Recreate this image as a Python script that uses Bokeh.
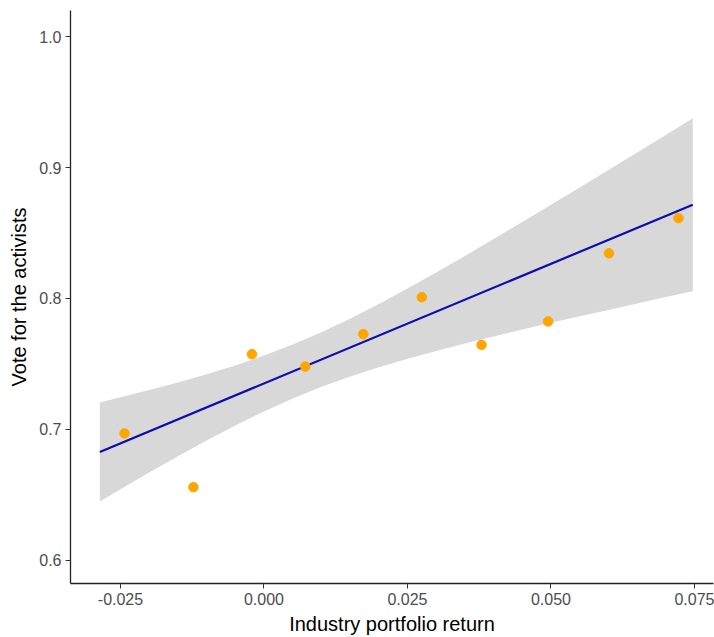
from bokeh.plotting import figure
from bokeh.models import Range1d, FixedTicker, CustomJSTickFormatter
from bokeh.embed import file_html
from bokeh.resources import INLINE

# Binned scatter points
ret_x = [-0.0243, -0.0123, -0.0021, 0.0072, 0.0173, 0.0275, 0.0379, 0.0495, 0.0601, 0.0722]
vote_y = [0.697, 0.656, 0.7575, 0.748, 0.7728, 0.801, 0.7646, 0.7825, 0.8345, 0.8613]

# Fitted line end points
fit_x = [-0.0286, 0.0747]
fit_y = [0.6829, 0.8716]

# Confidence band
band_x = [-0.0286, -0.025, -0.02, -0.015, -0.01, -0.005, 0.0, 0.005, 0.01, 0.015, 0.02,
          0.025, 0.03, 0.035, 0.04, 0.045, 0.05, 0.055, 0.06, 0.065, 0.07, 0.0747]
band_upper = [0.7207, 0.7246, 0.7301, 0.7359, 0.7422, 0.7489, 0.7564, 0.7648, 0.7742, 0.7846, 0.7958,
              0.8076, 0.8199, 0.8325, 0.8454, 0.8584, 0.8716, 0.8848, 0.8981, 0.9115, 0.9249, 0.9376]
band_lower = [0.6451, 0.6544, 0.6671, 0.6796, 0.6916, 0.7031, 0.7138, 0.7237, 0.7326, 0.7405, 0.7476,
              0.7540, 0.7599, 0.7656, 0.7710, 0.7763, 0.7814, 0.7864, 0.7913, 0.7962, 0.8011, 0.8056]

x_ticks = [-0.025, 0.0, 0.025, 0.05, 0.075]
y_ticks = [0.6, 0.7, 0.8, 0.9, 1.0]

p = figure(width=714, height=637, output_backend="svg", toolbar_location=None,
           x_range=Range1d(-0.03371, 0.07831), y_range=Range1d(0.58244, 1.01985),
           min_border_left=70, min_border_right=1, min_border_top=10, min_border_bottom=54)

p.varea(x=band_x, y1=band_lower, y2=band_upper, fill_color="#999999", fill_alpha=0.38)
p.line(fit_x, fit_y, line_color="#0C0CB0", line_width=2.2)
p.scatter(ret_x, vote_y, size=9.5, fill_color="#FFA500", line_color="#FFA500")

p.xgrid.visible = False
p.ygrid.visible = False
p.outline_line_color = None
p.background_fill_color = "white"
p.border_fill_color = "white"

p.xaxis.ticker = FixedTicker(ticks=x_ticks)
p.yaxis.ticker = FixedTicker(ticks=y_ticks)
p.xaxis.formatter = CustomJSTickFormatter(code="return tick.toFixed(3);")
p.yaxis.formatter = CustomJSTickFormatter(code="return tick.toFixed(1);")

for ax in (p.xaxis, p.yaxis):
    ax.axis_line_color = "#222222"
    ax.axis_line_width = 1.3
    ax.major_tick_line_color = "#333333"
    ax.major_tick_out = 5
    ax.major_tick_in = 0
    ax.minor_tick_out = 0
    ax.minor_tick_in = 0
    ax.major_label_text_font = "Liberation Sans"
    ax.major_label_text_font_size = "16px"
    ax.major_label_text_color = "#4D4D4D"
    ax.major_label_standoff = 4
    ax.axis_label_text_font = "Liberation Sans"
    ax.axis_label_text_font_size = "20px"
    ax.axis_label_text_font_style = "normal"
    ax.axis_label_text_color = "black"

p.xaxis.axis_label = "Industry portfolio return"
p.yaxis.axis_label = "Vote for the activists"
p.xaxis.axis_label_standoff = 5
p.yaxis.axis_label_standoff = 6

open("out.html", "w").write(file_html(p, INLINE))
